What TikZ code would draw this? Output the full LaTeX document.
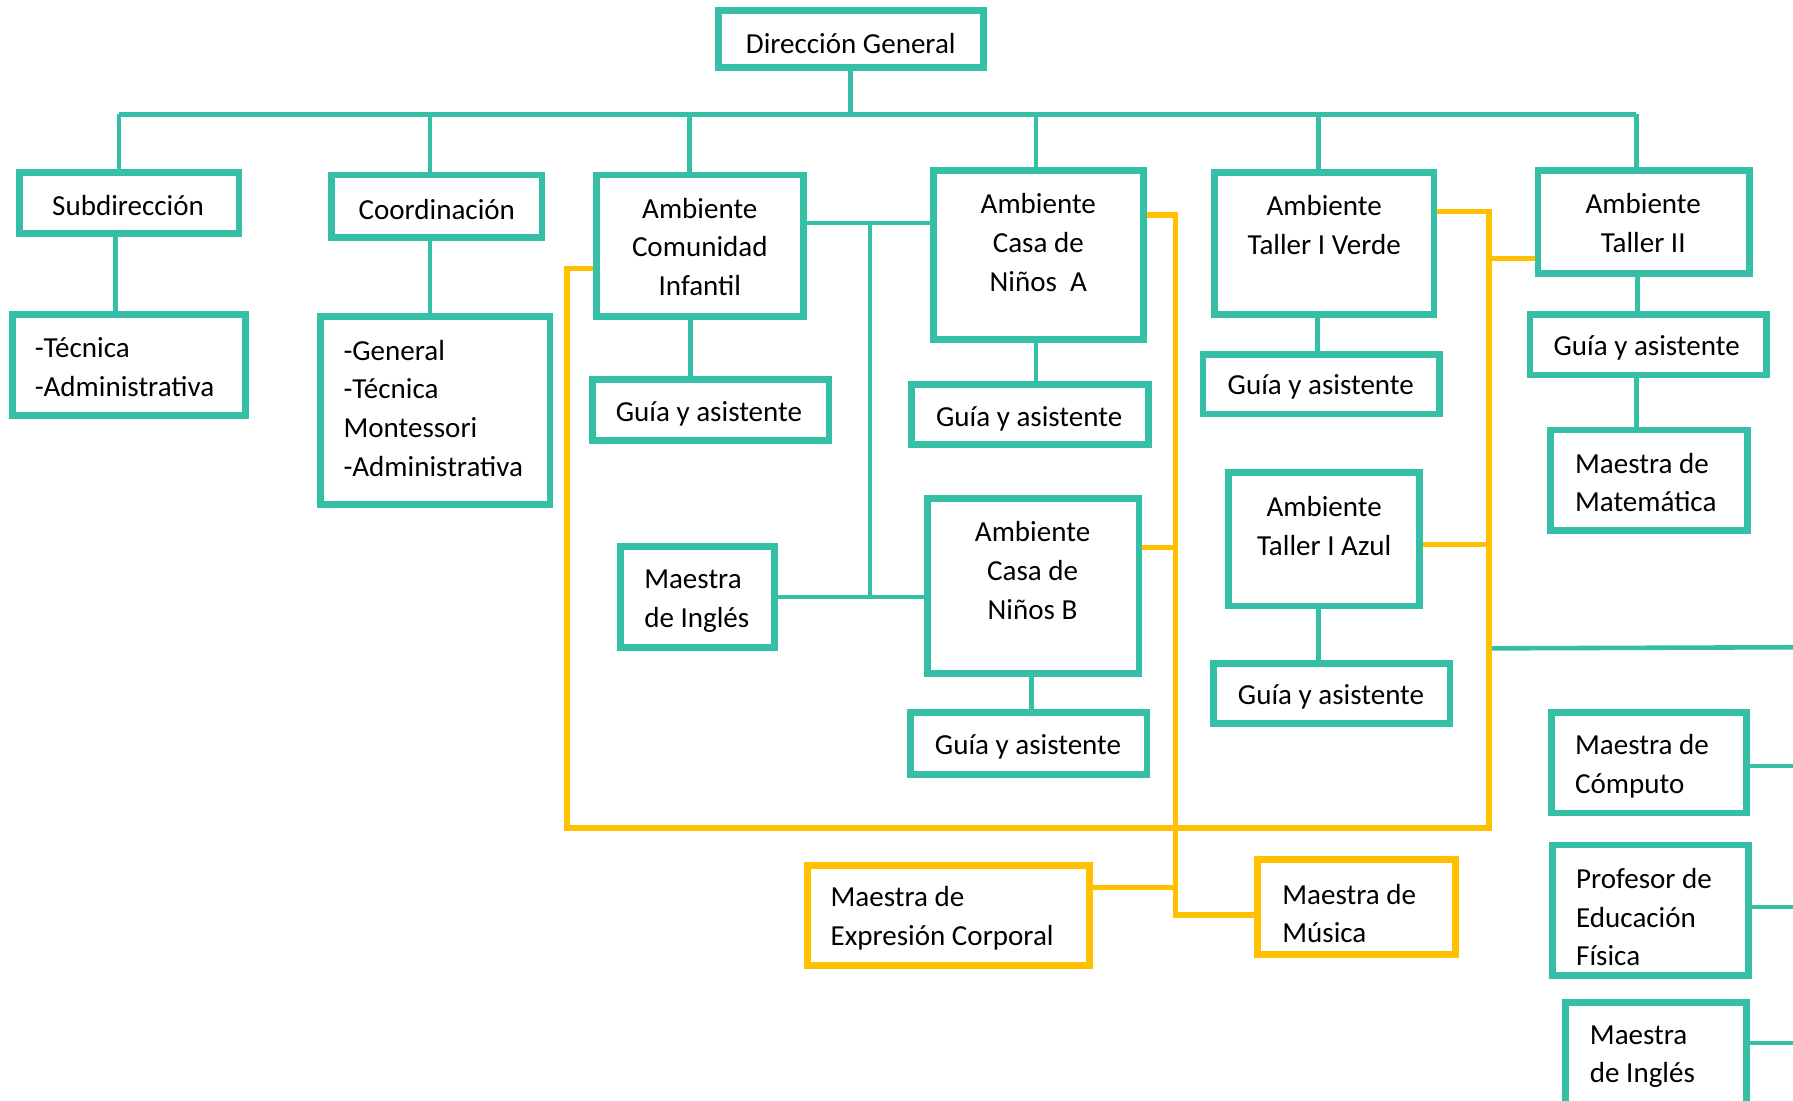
\documentclass[tikz,border=0pt]{standalone}
\usepackage{fontspec}
\setmainfont{Carlito}
\definecolor{tealc}{HTML}{35BFA6}
\definecolor{gold}{HTML}{FFC000}
\tikzset{
  tb/.style={draw=tealc, line width=3pt, rectangle, inner sep=0pt},
  yb/.style={draw=gold, line width=3pt, rectangle, inner sep=0pt},
  tl/.style={draw=tealc, line width=2pt},
  yl/.style={draw=gold, line width=2.4pt},
  tx/.style={inner sep=0pt, align=center, yshift=-1pt, font=\fontsize{12.7}{16.9}\selectfont},
  txl/.style={tx, align=left, anchor=west},
}
\newcommand\bx[6]{%
  \pgfmathsetmacro\bxw{(#4-#2)*0.5}%
  \pgfmathsetmacro\bxh{(#5-#3)*0.5}%
  \node[#6, minimum width=\bxw pt, minimum height=\bxh pt] (#1) at ({(#2+#4)/2},{(#3+#5)/2}) {};}
\begin{document}
\begin{tikzpicture}[x=0.5pt,y=-0.5pt]
\useasboundingbox (0,0) rectangle (1568,962);
% boxes
\bx{dg}{628}{9}{860}{59}{tb}
\bx{sub}{17}{151}{209}{204}{tb}
\bx{tec}{11}{275}{215}{363}{tb}
\bx{coo}{290}{153}{474}{208}{tb}
\bx{gen}{280}{277}{481}{441}{tb}
\bx{aci}{522}{153}{703}{277}{tb}
\bx{ga}{518}{332}{725}{385}{tb}
\bx{mi}{543}{478}{677}{566}{tb}
\bx{ca}{816}{149}{1000}{297}{tb}
\bx{gb}{797}{336}{1004}{389}{tb}
\bx{cb}{811}{436}{996}{589}{tb}
\bx{gc}{796}{623}{1003}{677}{tb}
\bx{tv}{1062}{151}{1254}{275}{tb}
\bx{gd}{1052}{310}{1259}{362}{tb}
\bx{ta}{1074}{413}{1241}{530}{tb}
\bx{ge}{1061}{580}{1268}{633}{tb}
\bx{tt}{1345}{149}{1530}{239}{tb}
\bx{gf}{1338}{275}{1545}{328}{tb}
\bx{mm}{1356}{376}{1528}{464}{tb}
\bx{mc}{1357}{623}{1527}{711}{tb}
\bx{pe}{1358}{739}{1529}{853}{tb}
\bx{mj}{1369}{877}{1527}{985}{tb}
\bx{mec}{706}{757}{953}{844}{yb}
\bx{mus}{1100}{752}{1273}{835}{yb}
% texts
\node[tx] (dg-t) at (744,36) {Dirección General};
\node[tx] (sub-t) at (112,178) {Subdirección};
\node[txl] (tec-t) at (30,319) {-Técnica\\-Administrativa};
\node[tx] (coo-t) at (382,181) {Coordinación};
\node[txl] (gen-t) at (300,355) {-General\\-Técnica\\Montessori\\-Administrativa};
\node[tx] (aci-t) at (612,214) {Ambiente\\Comunidad\\Infantil};
\node[tx] (ga-t) at (620,360) {Guía y asistente};
\node[txl] (mi-t) at (563,524) {Maestra\\de Inglés};
\node[tx] (ca-t) at (908,210) {Ambiente\\Casa de\\Niños\ \ A};
\node[tx] (gb-t) at (900,364) {Guía y asistente};
\node[tx] (cb-t) at (903,497) {Ambiente\\Casa de\\Niños B};
\node[tx] (gc-t) at (899,651) {Guía y asistente};
\node[tx] (tv-t) at (1158,195) {Ambiente\\Taller I Verde};
\node[tx] (gd-t) at (1155,336) {Guía y asistente};
\node[tx] (ta-t) at (1158,458) {Ambiente\\Taller I Azul};
\node[tx] (ge-t) at (1164,607) {Guía y asistente};
\node[tx] (tt-t) at (1437,193) {Ambiente\\Taller II};
\node[tx] (gf-t) at (1440,302) {Guía y asistente};
\node[txl] (mm-t) at (1377,420) {Maestra de\\Matemática};
\node[txl] (mc-t) at (1377,668) {Maestra de\\Cómputo};
\node[txl] (pe-t) at (1378,800) {Profesor de\\Educación\\Física};
\node[txl] (mj-t) at (1390,922) {Maestra\\de Inglés};
\node[txl] (mec-t) at (726,801) {Maestra de\\Expresión Corporal};
\node[txl] (mus-t) at (1121,797) {Maestra de\\Música};
% teal connectors
\coordinate (d1) at (104,100);
\coordinate (d2) at (376,100);
\coordinate (d3) at (603,100);
\coordinate (d4) at (906,100);
\coordinate (d5) at (1153,100);
\coordinate (d6) at (1431,100);
\draw[tl] (dg.south) -- (dg.south |- d1);
\draw[tl] (d1) -- (d6);
\draw[tl] (d1) -- (d1 |- sub.north);
\draw[tl] (d2) -- (d2 |- coo.north);
\draw[tl] (d3) -- (d3 |- aci.north);
\draw[tl] (d4) -- (d4 |- ca.north);
\draw[tl] (d5) -- (d5 |- tv.north);
\draw[tl] (d6) -- (d6 |- tt.north);
\draw[tl] (101,0 |- sub.south) -- (101,0 |- tec.north);
\draw[tl] (376,0 |- coo.south) -- (376,0 |- gen.north);
\draw[tl] (604,0 |- aci.south) -- (604,0 |- ga.north);
\draw[tl] (906,0 |- ca.south) -- (906,0 |- gb.north);
\draw[tl] (902,0 |- cb.south) -- (902,0 |- gc.north);
\draw[tl] (1152,0 |- tv.south) -- (1152,0 |- gd.north);
\draw[tl] (1153,0 |- ta.south) -- (1153,0 |- ge.north);
\draw[tl] (1432,0 |- tt.south) -- (1432,0 |- gf.north);
\draw[tl] (1431,0 |- gf.south) -- (1431,0 |- mm.north);
\coordinate (j1) at (761,195);
\coordinate (j2) at (761,522);
\draw[tl] (aci.east |- j1) -- (ca.west |- j1);
\draw[tl] (j1) -- (j2);
\draw[tl] (mi.east |- j2) -- (cb.west |- j2);
\coordinate (r1) at (1302,567);
\coordinate (r1e) at (1575,566);
\coordinate (rc) at (1575,670);
\coordinate (rp) at (1575,793);
\coordinate (rj) at (1575,912);
\draw[tl] (r1) -- (r1e);
\draw[tl] (mc.east |- rc) -- (rc);
\draw[tl] (pe.east |- rp) -- (rp);
\draw[tl] (mj.east |- rj) -- (rj);
% yellow connectors
\coordinate (yA) at (496,235);
\coordinate (yB) at (496,724);
\coordinate (yC) at (1302,724);
\coordinate (yD) at (1302,185);
\coordinate (yE) at (1302,226);
\coordinate (yF) at (1302,476);
\coordinate (yG) at (1028,188);
\coordinate (yH) at (1028,800);
\coordinate (yI) at (1028,479);
\coordinate (yJ) at (1028,776);
\draw[yl] (aci.west |- yA) -- (yA) -- (yB) -- (yC) -- (yD) -- (tv.east |- yD);
\draw[yl] (yE) -- (tt.west |- yE);
\draw[yl] (ta.east |- yF) -- (yF);
\draw[yl] (ca.east |- yG) -- (yG) -- (yH) -- (mus.west |- yH);
\draw[yl] (cb.east |- yI) -- (yI);
\draw[yl] (mec.east |- yJ) -- (yJ);
\end{tikzpicture}
\end{document}
